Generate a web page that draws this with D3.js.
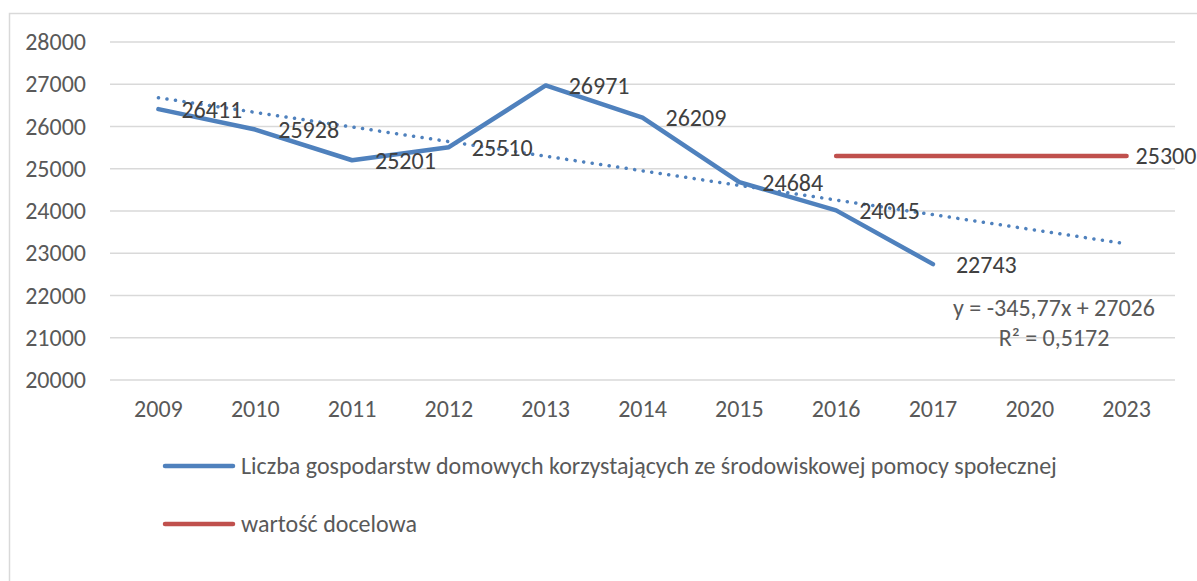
<!DOCTYPE html>
<html>
<head>
<meta charset="utf-8">
<script src="https://cdn.jsdelivr.net/npm/d3@7"></script>
<style>
  body { margin: 0; background: #fff; }
  svg { display: block; font-family: Calibri, Carlito, Lato, sans-serif; }
</style>
</head>
<body>
<svg width="1197" height="581"></svg>
<script>
// Data
const years = ["2009", "2010", "2011", "2012", "2013", "2014", "2015", "2016", "2017", "2020", "2023"];
const households = [26411, 25928, 25201, 25510, 26971, 26209, 24684, 24015, 22743];
const targetYears = ["2016", "2017", "2020", "2023"];
const targetValues = [25300, 25300, 25300, 25300];
const yTicks = [20000, 21000, 22000, 23000, 24000, 25000, 26000, 27000, 28000];
const trendSlope = -345.77, trendIntercept = 27026, trendR2 = "0,5172";
const seriesNames = ["Liczba gospodarstw domowych korzystających ze środowiskowej pomocy społecznej", "wartość docelowa"];

const blue = "#4F81BD", red = "#C0504D";
const fs = "24px";

const svg = d3.select("svg");

// chart frame
svg.append("rect")
    .attr("x", 9.5).attr("y", 13.5)
    .attr("width", 1300).attr("height", 700)
    .attr("fill", "none")
    .attr("stroke", "#d9d9d9")
    .attr("stroke-width", 1.5);

const x = d3.scaleBand()
    .domain(years)
    .range([110, 1175]);

const y = d3.scaleLinear()
    .domain([20000, 28000])
    .range([380, 42]);

const cx = d => x(d) + x.bandwidth() / 2;

// gridlines
svg.append("g")
    .selectAll("line")
    .data(yTicks)
    .join("line")
    .attr("x1", 110).attr("x2", 1175)
    .attr("y1", d => y(d)).attr("y2", d => y(d))
    .attr("stroke", "#d9d9d9")
    .attr("stroke-width", 1.5);

// y axis labels
const yAxis = svg.append("g")
    .attr("transform", "translate(94,0)")
    .call(d3.axisLeft(y).tickValues(yTicks).tickSize(0).tickPadding(8).tickFormat(d3.format("d")));
yAxis.select(".domain").remove();
yAxis.selectAll("text")
    .attr("fill", "#595959")
    .style("font-size", fs)
    .style("font-family", "Calibri, Carlito, Lato, sans-serif");

// x axis labels
const xAxis = svg.append("g")
    .attr("transform", "translate(0,392)")
    .call(d3.axisBottom(x).tickSize(0).tickPadding(8));
xAxis.select(".domain").remove();
xAxis.selectAll("text")
    .attr("fill", "#595959")
    .style("font-size", fs)
    .style("font-family", "Calibri, Carlito, Lato, sans-serif");

// trendline (dotted)
const trendIdx = [1, years.length];
svg.append("line")
    .attr("x1", cx(years[0]))
    .attr("y1", y(trendSlope * trendIdx[0] + trendIntercept))
    .attr("x2", cx(years[years.length - 1]))
    .attr("y2", y(trendSlope * trendIdx[1] + trendIntercept))
    .attr("stroke", blue)
    .attr("stroke-width", 3.5)
    .attr("stroke-linecap", "round")
    .attr("stroke-dasharray", "0.1 8.5");

const line = d3.line()
    .x(d => cx(d[0]))
    .y(d => y(d[1]));

// main series
const mainPts = households.map((v, i) => [years[i], v]);
svg.append("path")
    .datum(mainPts)
    .attr("d", line)
    .attr("fill", "none")
    .attr("stroke", blue)
    .attr("stroke-width", 4.5)
    .attr("stroke-linejoin", "round")
    .attr("stroke-linecap", "round");

// target series
const targetPts = targetValues.map((v, i) => [targetYears[i], v]);
svg.append("path")
    .datum(targetPts)
    .attr("d", line)
    .attr("fill", "none")
    .attr("stroke", red)
    .attr("stroke-width", 4.5)
    .attr("stroke-linecap", "round");

// data labels
svg.append("g")
    .selectAll("text")
    .data(mainPts)
    .join("text")
    .attr("x", d => cx(d[0]) + 23)
    .attr("y", d => y(d[1]))
    .attr("dy", "0.35em")
    .attr("fill", "#404040")
    .style("font-size", fs)
    .text(d => d[1]);

const lastT = targetPts[targetPts.length - 1];
svg.append("text")
    .attr("x", cx(lastT[0]) + 9)
    .attr("y", y(lastT[1]))
    .attr("dy", "0.35em")
    .attr("fill", "#404040")
    .style("font-size", fs)
    .text(lastT[1]);

// trendline equation
const eq = svg.append("text")
    .attr("text-anchor", "middle")
    .attr("fill", "#595959")
    .style("font-size", fs);
eq.append("tspan")
    .attr("x", 1054).attr("y", 316)
    .text(`y = ${String(trendSlope).replace(".", ",")}x + ${trendIntercept}`);
eq.append("tspan")
    .attr("x", 1054).attr("y", 346)
    .text(`R² = ${trendR2}`);

// legend
const legend = svg.append("g");
[blue, red].forEach((c, i) => {
    const ly = 466 + i * 58;
    legend.append("line")
        .attr("x1", 165).attr("x2", 233)
        .attr("y1", ly).attr("y2", ly)
        .attr("stroke", c)
        .attr("stroke-width", 4.5)
        .attr("stroke-linecap", "round");
    legend.append("text")
        .attr("x", 241).attr("y", ly)
        .attr("dy", "0.35em")
        .attr("fill", "#595959")
        .style("font-size", fs)
        .text(seriesNames[i]);
});
</script>
</body>
</html>
